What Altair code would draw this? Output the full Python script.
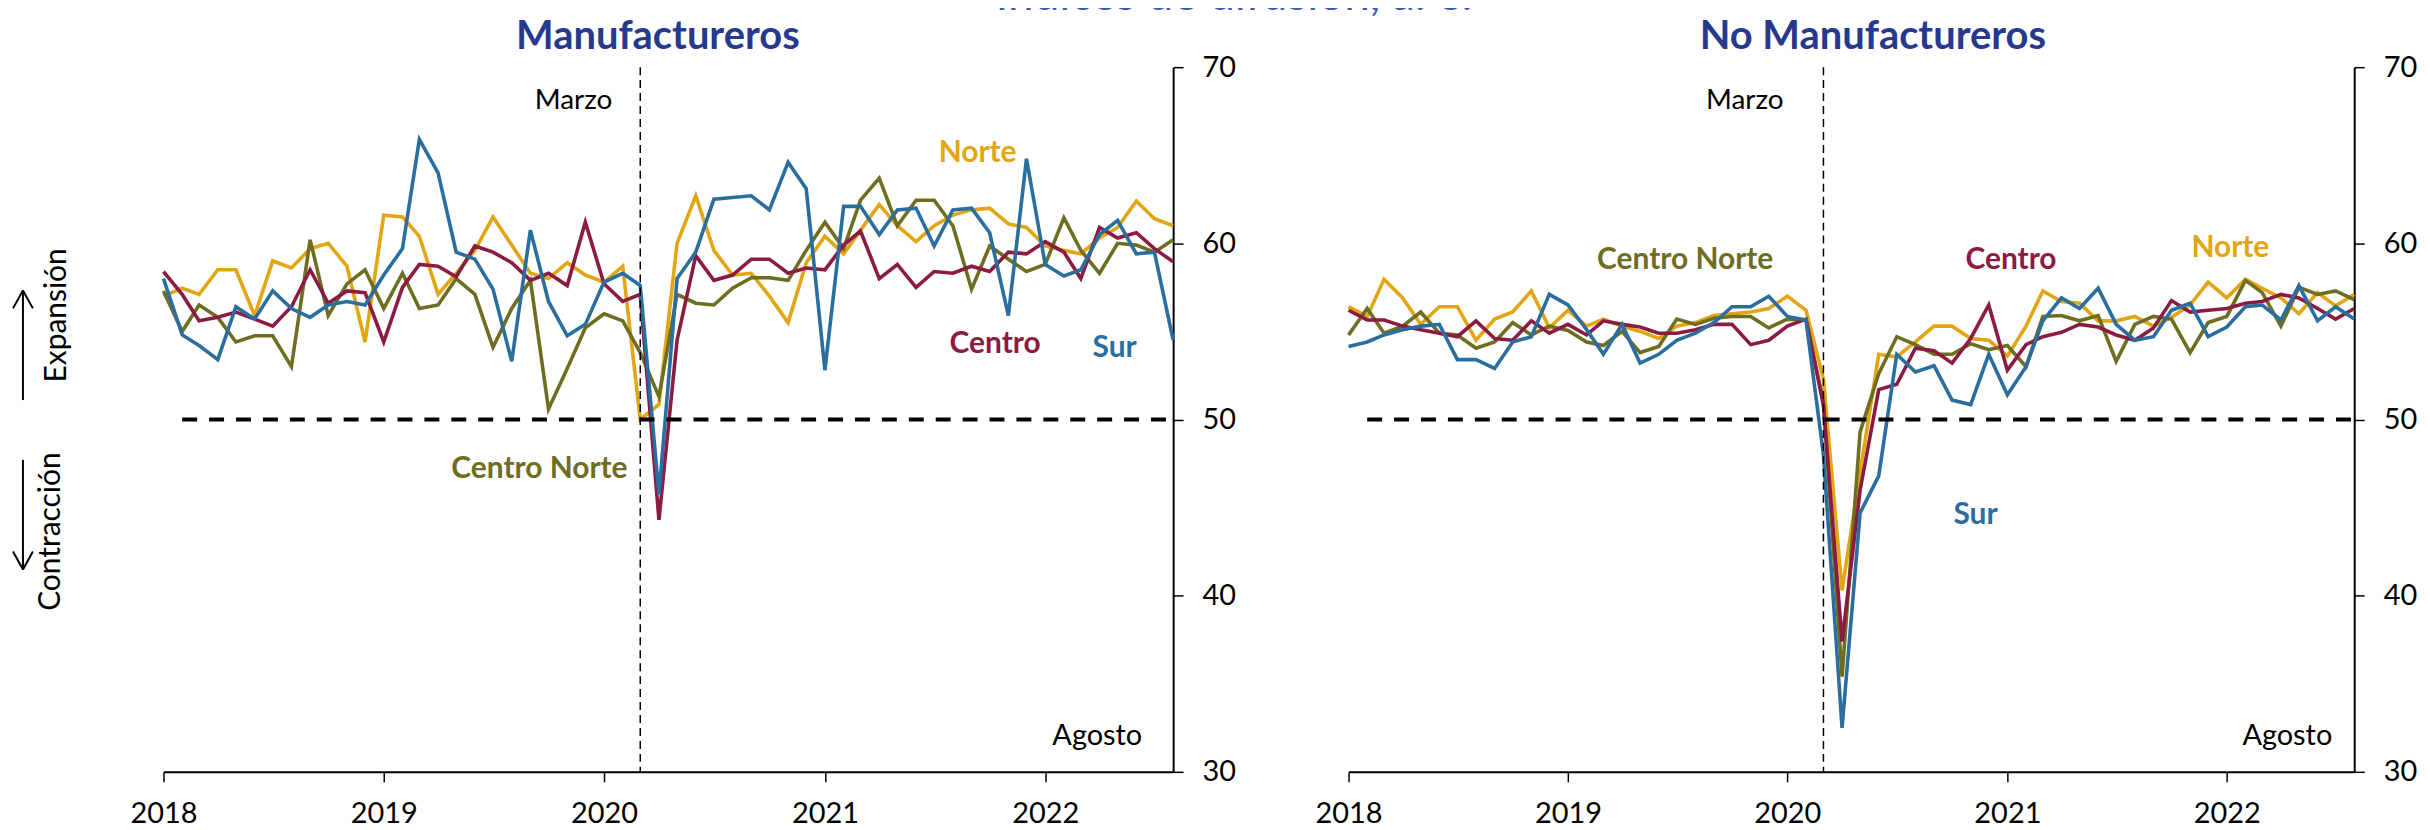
import altair as alt
import pandas as pd

# ---------------- data ----------------
MONTHS = pd.date_range("2018-01-01", periods=56, freq="MS").strftime("%Y-%m-%d").tolist()
YEARS = [2018, 2019, 2020, 2021, 2022]
Y_TICKS = [30, 40, 50, 60, 70]
REGIONS = ["Norte", "Centro Norte", "Centro", "Sur"]

MAN_NORTE = [57.0, 57.45, 57.1, 58.5, 58.5, 55.9, 59.0, 58.6, 59.7, 60.0,
             58.7, 54.4, 61.6, 61.5, 60.4, 57.1, 58.3, 59.6, 61.5, 59.9,
             58.3, 58.0, 58.9, 58.2, 57.8, 58.7, 50.0, 50.85, 60.0, 62.7,
             59.6, 58.2, 58.3, 57.0, 55.5, 58.9, 60.4, 59.4, 60.75, 62.2,
             61.0, 60.1, 61.0, 61.6, 61.9, 62.0, 61.1, 60.9, 59.85, 59.6,
             59.4, 60.3, 60.9, 62.4, 61.4, 61.0]
MAN_CNORTE = [57.3, 55.0, 56.5, 55.8, 54.4, 54.75, 54.75, 53.0, 60.2, 55.9,
              57.7, 58.5, 56.3, 58.3, 56.3, 56.5, 58.0, 57.1, 54.1, 56.3,
              57.9, 50.6, 52.9, 55.2, 56.0, 55.6, 53.8, 51.3, 57.1, 56.6,
              56.5, 57.45, 58.05, 58.05, 57.9, 59.6, 61.2, 59.7, 62.45, 63.7,
              61.0, 62.45, 62.45, 61.0, 57.4, 59.85, 59.1, 58.4, 58.8, 61.45,
              59.6, 58.3, 60.0, 59.9, 59.5, 60.2]
MAN_CENTRO = [58.4, 57.1, 55.6, 55.8, 56.1, 55.7, 55.3, 56.4, 58.5, 56.6,
              57.3, 57.2, 54.4, 57.5, 58.8, 58.7, 58.1, 59.85, 59.5, 58.9,
              57.9, 58.3, 57.6, 61.2, 57.7, 56.7, 57.1, 44.3, 54.5, 59.3,
              57.9, 58.2, 59.1, 59.1, 58.3, 58.6, 58.5, 59.9, 60.7, 58.0,
              58.8, 57.5, 58.4, 58.3, 58.7, 58.4, 59.5, 59.4, 60.1, 59.5,
              58.0, 60.9, 60.3, 60.6, 59.7, 58.95]
MAN_SUR = [58.0, 54.8, 54.2, 53.4, 56.4, 55.7, 57.3, 56.3, 55.8, 56.5,
           56.7, 56.5, 58.2, 59.7, 65.9, 64.0, 59.5, 59.1, 57.4, 53.3,
           60.75, 56.7, 54.75, 55.4, 57.8, 58.3, 57.6, 45.75, 58.0, 59.5,
           62.5, 62.6, 62.7, 61.9, 64.6, 63.1, 52.8, 62.1, 62.1, 60.5,
           61.9, 62.0, 59.85, 61.9, 62.0, 60.6, 55.9, 64.8, 58.8, 58.15,
           58.5, 60.5, 61.3, 59.4, 59.5, 54.5]

NOM_NORTE = [56.4, 55.85, 57.96, 56.9, 55.4, 56.4, 56.4, 54.5, 55.7, 56.1,
             57.3, 55.2, 56.2, 55.3, 55.7, 55.3, 55.0, 54.6, 55.3, 55.5,
             55.9, 56.0, 56.1, 56.3, 57.0, 56.2, 52.3, 40.3, 47.0, 53.7,
             53.55, 54.4, 55.3, 55.3, 54.6, 54.5, 53.6, 55.3, 57.3, 56.7,
             56.6, 55.6, 55.6, 55.85, 55.3, 55.8, 56.5, 57.8, 56.9, 57.96,
             57.45, 56.9, 56.0, 57.2, 56.45, 57.1]
NOM_CNORTE = [54.8, 56.3, 54.9, 55.3, 56.1, 54.9, 54.8, 54.05, 54.4, 55.5,
              54.8, 55.3, 55.05, 54.4, 54.2, 55.0, 53.8, 54.15, 55.7, 55.4,
              55.75, 55.85, 55.85, 55.2, 55.7, 55.65, 51.0, 35.4, 49.3, 52.6,
              54.7, 54.25, 53.7, 53.7, 54.3, 53.96, 54.2, 53.0, 55.85, 55.9,
              55.6, 55.9, 53.3, 55.4, 55.85, 55.7, 53.8, 55.5, 55.85, 57.9,
              57.2, 55.3, 57.5, 57.1, 57.3, 56.8]
NOM_CENTRO = [56.2, 55.65, 55.65, 55.3, 55.1, 54.9, 54.7, 55.6, 54.6, 54.5,
              55.6, 54.9, 55.4, 54.8, 55.6, 55.4, 55.25, 54.9, 54.9, 55.1,
              55.4, 55.4, 54.25, 54.5, 55.3, 55.7, 50.8, 37.4, 46.0, 51.7,
              52.0, 54.05, 53.9, 53.2, 54.6, 56.5, 52.8, 54.25, 54.7, 54.95,
              55.4, 55.25, 54.8, 54.5, 55.2, 56.75, 56.1, 56.2, 56.3, 56.6,
              56.7, 57.1, 56.9, 56.3, 55.7, 56.3]
NOM_SUR = [54.15, 54.4, 54.8, 55.1, 55.3, 55.4, 53.4, 53.4, 52.9, 54.4,
           54.7, 57.1, 56.5, 55.1, 53.7, 55.4, 53.2, 53.7, 54.5, 54.9,
           55.5, 56.4, 56.4, 57.0, 55.85, 55.65, 48.0, 32.5, 44.7, 46.8,
           53.7, 52.7, 53.05, 51.1, 50.85, 53.7, 51.4, 53.0, 55.6, 56.9,
           56.3, 57.45, 55.4, 54.5, 54.7, 56.2, 56.6, 54.7, 55.25, 56.4,
           56.5, 55.65, 57.6, 55.6, 56.4, 55.7]

THRESHOLD = 50
MARCH_2020 = "2020-03-01"
LAST_MONTH = "2022-08-01"

# ---------------- style ----------------
COLORS = {"Norte": "#E2A513", "Centro Norte": "#6F6D1F", "Centro": "#8B1B40", "Sur": "#2A6E9F"}
FONT = "Lato"
TITLE_BLUE = "#253A8C"
HEIGHT = 707


def utc(y, m, d=1):
    return alt.DateTime(year=y, month=m, date=d, utc=True)


XSCALE = alt.Scale(type="utc", domain=[utc(2018, 1), utc(2022, 8)])
XAXIS = alt.Axis(values=[utc(y, 1) for y in YEARS], format="%Y", title=None, grid=False,
                 labelFlush=False, labelOverlap=False, labelFontSize=29, labelFont=FONT,
                 labelColor="black", labelPadding=18, tickSize=10, tickWidth=1.5,
                 tickColor="black", domainColor="black", domainWidth=2)
YSCALE = alt.Scale(domain=[30, 70], nice=False, zero=False)
YAXIS = alt.Axis(orient="right", values=Y_TICKS, title=None, grid=False, labelFontSize=29,
                 labelFont=FONT, labelColor="black", labelPadding=19, tickSize=10,
                 tickWidth=1.5, tickColor="black", domainColor="black", domainWidth=2)

X = alt.X("date:T", scale=XSCALE, axis=XAXIS)
Y = alt.Y("v:Q", scale=YSCALE, axis=YAXIS)
ONE = pd.DataFrame({"k": [0]})


def panel(series, width, labels, marzo_dx, agosto_dx, title, title_x, extras):
    layers = []
    for r in REGIONS:
        df = pd.DataFrame({"date": MONTHS, "v": series[r]})
        layers.append(alt.Chart(df).mark_line(color=COLORS[r], strokeWidth=3.6).encode(x=X, y=Y))
    ref = pd.DataFrame({"date": ["2018-02-01"], "end": [LAST_MONTH], "v": [THRESHOLD]})
    layers.append(alt.Chart(ref).mark_rule(color="black", strokeWidth=4, strokeDash=[15, 12])
                  .encode(x=X, x2="end:T", y=Y))
    mz = pd.DataFrame({"date": [MARCH_2020], "v": [70], "v2": [30]})
    layers.append(alt.Chart(mz).mark_rule(color="black", strokeWidth=1.5, strokeDash=[8, 5])
                  .encode(x=X, y=Y, y2="v2:Q"))
    # annotations
    layers.append(alt.Chart(pd.DataFrame({"date": [MARCH_2020], "t": ["Marzo"]}))
                  .mark_text(font=FONT, fontSize=28, color="black", align="right",
                             baseline="alphabetic", dx=marzo_dx)
                  .encode(x=X, y=alt.value(42), text="t:N"))
    layers.append(alt.Chart(pd.DataFrame({"date": [LAST_MONTH], "t": ["Agosto"]}))
                  .mark_text(font=FONT, fontSize=29, color="black", align="right",
                             baseline="alphabetic", dx=agosto_dx)
                  .encode(x=X, y=alt.value(680), text="t:N"))
    for name, d, v in labels:
        layers.append(alt.Chart(pd.DataFrame({"date": [d], "v": [v], "t": [name]}))
                      .mark_text(font=FONT, fontSize=30, fontWeight="bold", color=COLORS[name],
                                 align="center", baseline="alphabetic")
                      .encode(x=X, y=Y, text="t:N"))
    layers.append(alt.Chart(pd.DataFrame({"t": [title]}))
                  .mark_text(font=FONT, fontSize=40, fontWeight="bold", color=TITLE_BLUE,
                             align="center", baseline="alphabetic")
                  .encode(x=alt.value(title_x), y=alt.value(-18), text="t:N"))
    layers.extend(extras)
    return alt.layer(*layers).properties(width=width, height=HEIGHT)


def seg(x1, y1, x2, y2):
    return (alt.Chart(ONE).mark_rule(color="black", strokeWidth=2)
            .encode(x=alt.value(x1), y=alt.value(y1), x2=alt.value(x2), y2=alt.value(y2)))


left_extras = [
    # invisible anchor fixing the top-left corner of the drawing
    alt.Chart(ONE).mark_rule(strokeOpacity=0, color="white")
    .encode(x=alt.value(-156), y=alt.value(-100), y2=alt.value(-96)),
    alt.Chart(pd.DataFrame({"t": ["Índices de difusión, a. e."]}))
    .mark_text(font=FONT, fontSize=46, color="#3A5BB0", align="center", baseline="alphabetic")
    .encode(x=alt.value(1074), y=alt.value(-57), text="t:N"),
    alt.Chart(pd.DataFrame({"t": ["Expansión"]}))
    .mark_text(font=FONT, fontSize=30, color="black", angle=270, align="center", baseline="middle")
    .encode(x=alt.value(-107), y=alt.value(249), text="t:N"),
    alt.Chart(pd.DataFrame({"t": ["Contracción"]}))
    .mark_text(font=FONT, fontSize=30, color="black", angle=270, align="center", baseline="middle")
    .encode(x=alt.value(-113), y=alt.value(466), text="t:N"),
    seg(-141, 224, -141, 334), seg(-151, 242, -141, 224), seg(-131, 242, -141, 224),
    seg(-141, 394, -141, 504), seg(-151, 486, -141, 504), seg(-131, 486, -141, 504),
]

left = panel(
    {"Norte": MAN_NORTE, "Centro Norte": MAN_CNORTE, "Centro": MAN_CENTRO, "Sur": MAN_SUR},
    1013,
    [("Norte", "2021-09-11", 64.6), ("Centro", "2021-10-10", 53.8),
     ("Sur", "2022-04-26", 53.57), ("Centro Norte", "2019-09-16", 46.7)],
    -28, -31, "Manufactureros", 496, left_extras)

right = panel(
    {"Norte": NOM_NORTE, "Centro Norte": NOM_CNORTE, "Centro": NOM_CENTRO, "Sur": NOM_SUR},
    1009,
    [("Centro Norte", "2019-07-15", 58.55), ("Centro", "2021-01-07", 58.55),
     ("Norte", "2022-01-07", 59.2), ("Sur", "2020-11-09", 44.05)],
    -40, -22, "No Manufactureros", 526, [])

chart = (alt.hconcat(left, right, spacing=176, bounds="flush")
         .properties(padding={"left": 0, "top": -42, "right": 5, "bottom": 0})
         .configure_view(strokeOpacity=0))

chart.save("out.html", embed_options={"renderer": "svg", "actions": False})
